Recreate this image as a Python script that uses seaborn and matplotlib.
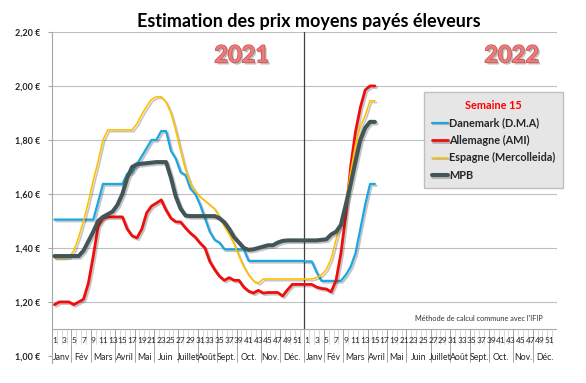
import matplotlib
matplotlib.use('Agg')
import matplotlib.pyplot as plt
import matplotlib.patheffects as pe
import seaborn as sns
import pandas as pd

# prix hebdomadaires (EUR/kg), 2021 semaines 1-52 puis 2022 semaines 1-15
danemark_2021 = [1.505, 1.505, 1.505, 1.505, 1.505, 1.505, 1.505, 1.505, 1.505, 1.57,
                 1.637, 1.637, 1.637, 1.637, 1.637, 1.675, 1.68, 1.71, 1.74, 1.77,
                 1.80, 1.80, 1.833, 1.833, 1.76, 1.73, 1.68, 1.67, 1.62, 1.60,
                 1.56, 1.51, 1.46, 1.43, 1.42, 1.395, 1.395, 1.395, 1.395, 1.395,
                 1.352, 1.352, 1.352, 1.352, 1.352, 1.352, 1.352, 1.352, 1.352, 1.352,
                 1.352, 1.352]
allemagne_2021 = [1.19, 1.20, 1.20, 1.20, 1.19, 1.20, 1.21, 1.27, 1.37, 1.48,
                  1.51, 1.515, 1.515, 1.515, 1.515, 1.47, 1.445, 1.437, 1.47, 1.53,
                  1.555, 1.566, 1.578, 1.54, 1.51, 1.497, 1.496, 1.474, 1.455, 1.44,
                  1.418, 1.40, 1.35, 1.32, 1.295, 1.28, 1.29, 1.28, 1.28, 1.255,
                  1.24, 1.233, 1.243, 1.233, 1.235, 1.235, 1.235, 1.222, 1.245, 1.265,
                  1.265, 1.265]
espagne_2021 = [1.363, 1.363, 1.363, 1.365, 1.39, 1.44, 1.50, 1.57, 1.65, 1.72,
                1.80, 1.837, 1.837, 1.837, 1.837, 1.837, 1.837, 1.86, 1.895, 1.925,
                1.95, 1.96, 1.96, 1.94, 1.90, 1.835, 1.76, 1.69, 1.64, 1.61,
                1.59, 1.575, 1.56, 1.545, 1.515, 1.48, 1.45, 1.415, 1.37, 1.33,
                1.30, 1.278, 1.27, 1.285, 1.285, 1.285, 1.285, 1.285, 1.285, 1.285,
                1.285, 1.285]
mpb_2021 = [1.37, 1.37, 1.37, 1.37, 1.37, 1.37, 1.39, 1.425, 1.46, 1.50,
            1.515, 1.525, 1.535, 1.56, 1.60, 1.66, 1.70, 1.71, 1.712, 1.714,
            1.716, 1.718, 1.718, 1.718, 1.66, 1.59, 1.545, 1.52, 1.518, 1.518,
            1.518, 1.518, 1.518, 1.518, 1.51, 1.495, 1.47, 1.44, 1.42, 1.40,
            1.393, 1.395, 1.40, 1.405, 1.41, 1.41, 1.42, 1.426, 1.428, 1.428,
            1.428, 1.428]

danemark_2022 = [1.35, 1.35, 1.31, 1.278, 1.278, 1.278, 1.278, 1.278, 1.30, 1.33, 1.38, 1.47, 1.56, 1.637, 1.637]
allemagne_2022 = [1.265, 1.265, 1.255, 1.25, 1.248, 1.237, 1.28, 1.38, 1.52, 1.70, 1.83, 1.92, 1.985, 2.0, 2.0]
espagne_2022 = [1.285, 1.285, 1.29, 1.30, 1.32, 1.36, 1.43, 1.50, 1.57, 1.68, 1.78, 1.85, 1.89, 1.945, 1.945]
mpb_2022 = [1.428, 1.428, 1.428, 1.43, 1.432, 1.45, 1.46, 1.485, 1.56, 1.635, 1.72, 1.80, 1.845, 1.867, 1.867]

series_names = ['Danemark (D.M.A)', 'Allemagne (AMI)', 'Espagne (Mercolleida)', 'MPB']
colors = ['#1AA7E1', '#F20D0D', '#FFC000', '#435657']
widths = [1.6, 2.0, 1.2, 2.9]

months = ['Janv', 'Fév', 'Mars', 'Avril', 'Mai', 'Juin', 'Juillet', 'Août', 'Sept.', 'Oct.', 'Nov.', 'Déc.']
weeks_per_month = [4, 4, 5, 4, 4, 5, 4, 4, 4, 5, 4, 5]
yticks = [1.0, 1.2, 1.4, 1.6, 1.8, 2.0, 2.2]
n_weeks = 52

# tableau long pour seaborn
pos_2021 = list(range(n_weeks))
pos_2022 = [n_weeks + i for i in range(len(mpb_2022))]
values = [danemark_2021 + danemark_2022, allemagne_2021 + allemagne_2022,
          espagne_2021 + espagne_2022, mpb_2021 + mpb_2022]
rows = []
for name, vals in zip(series_names, values):
    for p, v in zip(pos_2021 + pos_2022, vals):
        rows.append({'pos': p, 'prix': v, 'serie': name})
df = pd.DataFrame(rows)

sns.set_theme(style='white')
plt.rcParams['font.family'] = ['Lato', 'DejaVu Sans']

fig = plt.figure(figsize=(5.86, 3.83), dpi=100)
ax = fig.add_axes([0.0887, 0.053, 0.8618, 0.8636])
ax.set_xlim(-0.5, 2 * n_weeks - 0.5)
ax.set_ylim(0.975, 2.2)

for v in yticks[1:]:
    ax.axhline(v, color='#BFBFBF', lw=0.8, zorder=0)

for name, color, lw in zip(series_names, colors, widths):
    sns.lineplot(data=df[df['serie'] == name], x='pos', y='prix', color=color, lw=lw,
                 label=name, ax=ax, zorder=3,
                 path_effects=[pe.SimpleLineShadow(offset=(1.2, -1.2), alpha=0.25), pe.Normal()])

# séparation des années
ax.plot([n_weeks - 0.5, n_weeks - 0.5], [1.10, 2.2], color='#404040', lw=0.9, zorder=2)

# axe des catégories (semaines / mois)
ax.axhline(1.10, color='#A6A6A6', lw=0.8)
for b in range(2 * n_weeks + 1):
    ax.plot([b - 0.5, b - 0.5], [1.10, 1.043], color='#C9C9C9', lw=0.5)
for year in range(2):
    off = year * n_weeks
    for w in range(1, n_weeks + 1, 2):
        ax.text(off + w - 1, 1.057, str(w), ha='center', va='center', fontsize=6, color='#262626')
    start = 0
    for m, nw in zip(months, weeks_per_month):
        ax.plot([off + start - 0.5] * 2, [1.10, 0.978], color='#A6A6A6', lw=0.7)
        ax.text(off + start + nw / 2 - 0.5, 0.995, m, ha='center', va='center', fontsize=6.3, color='#262626')
        start += nw
ax.plot([2 * n_weeks - 0.5] * 2, [1.10, 0.978], color='#A6A6A6', lw=0.7)

# années
year_fx = [pe.SimplePatchShadow(offset=(1.5, -1.5), shadow_rgbFace='#808080', alpha=0.5),
           pe.Stroke(linewidth=1.0, foreground='#C0504D'), pe.Normal()]
ax.text(38.6, 2.115, '2021', ha='center', va='center', fontsize=17, fontweight='bold',
        color='#EE7B7B', path_effects=year_fx)
ax.text(94.2, 2.115, '2022', ha='center', va='center', fontsize=17, fontweight='bold',
        color='#EE7B7B', path_effects=year_fx)

ax.text(74.3, 1.14, "Méthode de calcul commune avec l'IFIP", ha='left', va='center',
        fontsize=5.3, color='#333333')

ax.set_yticks(yticks)
ax.set_yticklabels([f'{v:.2f}'.replace('.', ',') + ' €' for v in yticks],
                   fontsize=6.5, fontweight='bold', color='#262626')
ax.tick_params(axis='y', left=True, length=3, width=0.8, color='#A6A6A6', pad=5)
ax.set_xticks([])
ax.set_xlabel('')
ax.set_ylabel('')
for s in ['top', 'right', 'bottom']:
    ax.spines[s].set_visible(False)
ax.spines['left'].set_color('#A6A6A6')
ax.spines['left'].set_linewidth(0.8)

leg = ax.legend(title='Semaine 15', loc='upper left', bbox_to_anchor=(0.726, 0.834),
                frameon=True, fancybox=False, facecolor='#E7E6E6', edgecolor='#BFBFBF',
                framealpha=1, prop={'weight': 'bold', 'size': 7.8},
                title_fontproperties={'weight': 'bold', 'size': 7.8},
                handlelength=1.5, handletextpad=0.15, labelspacing=0.6, borderpad=0.7)
leg.get_title().set_color('red')
for t in leg.get_texts():
    t.set_color('#262626')

fig.text(0.527, 0.945, 'Estimation des prix moyens payés éleveurs', ha='center', va='center',
         fontsize=13, fontweight='bold', color='black')

fig.savefig('out.png', dpi=100)
